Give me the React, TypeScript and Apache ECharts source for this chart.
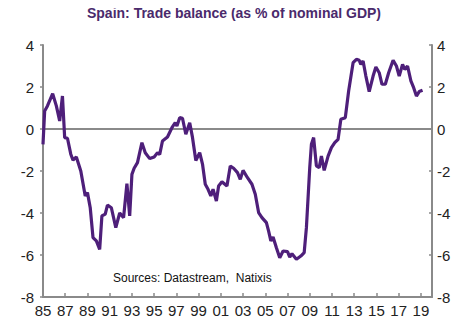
import React, { useEffect, useRef } from "react";
import * as echarts from "echarts";

const TITLE = "Spain: Trade balance (as % of nominal GDP)";
const SOURCE = "Sources: Datastream,  Natixis";

const years: number[] = [
  1985.0, 1985.15, 1985.4, 1985.87, 1986.2, 1986.5, 1986.75, 1986.95, 1987.2, 1987.5,
  1987.7, 1988.0, 1988.4, 1988.8, 1989.0, 1989.25, 1989.5, 1989.8, 1990.1, 1990.3,
  1990.6, 1990.8, 1991.15, 1991.55, 1991.9, 1992.25, 1992.55, 1992.8, 1993.0, 1993.2,
  1993.5, 1993.9, 1994.2, 1994.6, 1995.0, 1995.3, 1995.5, 1995.75, 1996.2, 1996.6,
  1996.9, 1997.05, 1997.3, 1997.55, 1997.85, 1998.2, 1998.45, 1998.75, 1999.1, 1999.35,
  1999.6, 1999.85, 2000.1, 2000.3, 2000.6, 2000.8, 2001.1, 2001.55, 2001.85, 2002.15,
  2002.5, 2002.75, 2003.0, 2003.4, 2003.8, 2004.1, 2004.4, 2004.7, 2005.1, 2005.3,
  2005.5, 2005.7, 2006.0, 2006.3, 2006.6, 2007.0, 2007.2, 2007.4, 2007.8, 2008.2,
  2008.5, 2008.7, 2009.0, 2009.15, 2009.35, 2009.6, 2009.85, 2010.05, 2010.3, 2010.65,
  2010.95, 2011.25, 2011.55, 2011.8, 2012.2, 2012.5, 2012.9, 2013.2, 2013.45, 2013.6,
  2013.8, 2014.05, 2014.35, 2014.7, 2014.95, 2015.25, 2015.5, 2015.8, 2016.1, 2016.5,
  2016.8, 2017.05, 2017.35, 2017.55, 2017.8, 2018.1, 2018.35, 2018.6, 2018.85, 2019.15,
];

const balance: number[] = [
  -0.73, 0.86, 1.1, 1.68, 1.1, 0.38, 1.57, -0.41, -0.44, -1.2,
  -1.48, -1.33, -2.0, -3.19, -3.03, -3.75, -5.17, -5.33, -5.73, -4.14,
  -4.05, -3.62, -3.75, -4.7, -4.0, -4.22, -2.6, -4.14, -2.16, -1.87,
  -1.6, -0.65, -1.13, -1.41, -1.33, -1.13, -1.21, -0.57, -0.38, 0.06,
  0.3, 0.14, 0.54, 0.51, -0.25, 0.3, -0.4, -1.5, -1.13, -1.67,
  -2.63, -2.87, -3.19, -2.87, -3.43, -2.71, -2.51, -2.71, -1.76, -1.87,
  -2.08, -2.4, -1.97, -2.32, -2.63, -3.11, -3.98, -4.22, -4.46, -4.86,
  -5.33, -5.14, -5.65, -6.13, -5.81, -5.84, -6.1, -5.94, -6.2, -6.05,
  -5.89, -4.7, -1.84, -0.73, -0.41, -1.76, -1.84, -1.29, -1.97, -1.29,
  -0.89, -0.65, -0.49, 0.46, 0.54, 1.81, 3.16, 3.32, 3.27, 3.08,
  3.24, 2.52, 1.78, 2.52, 2.95, 2.68, 2.13, 2.13, 2.68, 3.27,
  3.0, 2.52, 3.08, 2.84, 3.0, 2.29, 1.97, 1.57, 1.78, 1.84,
];

const START_YEAR = 1985;
const END_YEAR = 2020;
const Y_MIN = -8;
const Y_MAX = 4;
const Y_STEP = 2;

export default function App() {
  const ref = useRef<HTMLDivElement>(null);
  useEffect(() => {
    if (!ref.current) return;
    const chart = echarts.init(ref.current, null, { renderer: "svg" });
    const font = "'Liberation Sans', Arial, sans-serif";
    const axisColor = "#8a8a8a";
    const yAxisBase = {
      type: "value" as const,
      min: Y_MIN,
      max: Y_MAX,
      interval: Y_STEP,
      splitLine: { show: false },
      axisLine: { show: true, lineStyle: { color: axisColor, width: 2 } },
      axisLabel: { color: "#222", fontSize: 15, fontFamily: font },
    };
    chart.setOption({
      animation: false,
      title: {
        text: TITLE,
        left: "center",
        top: 1,
        textStyle: { color: "#4a2a6c", fontSize: 14, fontWeight: "bold", fontFamily: font },
      },
      grid: { left: 43, right: 36, top: 45, bottom: 37, containLabel: false },
      xAxis: {
        type: "value",
        min: 0,
        max: END_YEAR - START_YEAR,
        interval: 2,
        splitLine: { show: false },
        axisLine: { show: true, onZero: false, lineStyle: { color: axisColor, width: 2 } },
        axisTick: { show: true, inside: true, length: 4, lineStyle: { color: axisColor, width: 1.5 } },
        axisLabel: {
          color: "#222",
          fontSize: 15,
          fontFamily: font,
          margin: 6,
          formatter: (v: number) => {
            if (v >= END_YEAR - START_YEAR) return "";
            const y = (START_YEAR + Math.round(v)) % 100;
            return y < 10 ? "0" + y : String(y);
          },
        },
      },
      yAxis: [
        {
          ...yAxisBase,
          position: "left",
          axisTick: { show: true, length: 3, lineStyle: { color: axisColor, width: 1.5 } },
          axisLabel: { ...yAxisBase.axisLabel, margin: 9 },
        },
        {
          ...yAxisBase,
          position: "right",
          axisTick: { show: true, inside: true, length: 3, lineStyle: { color: axisColor, width: 1.5 } },
          axisLabel: { ...yAxisBase.axisLabel, margin: 5 },
        },
      ],
      graphic: [
        {
          type: "text",
          left: 113,
          top: 272,
          style: { text: SOURCE, fill: "#111", fontSize: 12, fontFamily: font },
        },
      ],
      series: [
        {
          type: "line",
          yAxisIndex: 0,
          data: years.map((y, i) => [y - START_YEAR, balance[i]]),
          showSymbol: false,
          symbol: "none",
          lineStyle: { color: "#4e1f7a", width: 3.2 },
          z: 3,
          markLine: {
            silent: true,
            symbol: "none",
            label: { show: false },
            lineStyle: { color: "#8a8a8a", width: 2, type: "solid" },
            data: [{ yAxis: 0 }],
            z: 2,
          },
        },
      ],
    });
    return () => chart.dispose();
  }, []);
  return <div ref={ref} style={{ width: 468, height: 334, margin: -8 }} />;
}
